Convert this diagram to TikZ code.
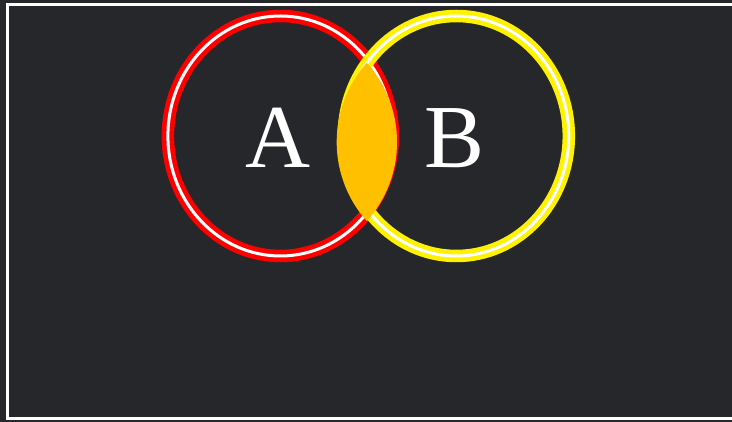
\documentclass[tikz,border=0pt]{standalone}
\usepackage{fontspec}
\setmainfont{Liberation Serif}
\definecolor{board}{RGB}{38,39,43}
\definecolor{lensfill}{RGB}{255,192,0}

\begin{document}
\begin{tikzpicture}[x=1pt, y=1pt]
  \def\rx{112.5}
  \def\ry{120}
  \coordinate (A) at (280.4,286); % left set
  \coordinate (B) at (456.3,286); % right set
  \useasboundingbox (0,0) rectangle (732,422);
  \fill[board] (0,0) rectangle (732,422);
  \draw[white, line width=2.6pt] (7.5,3.5) rectangle (740,417.5);
  % rings
  \draw[red, line width=12.5pt] (A) ellipse [x radius=\rx, y radius=\ry];
  \draw[white, line width=3pt] (A) ellipse [x radius=\rx, y radius=\ry];
  \draw[yellow, line width=12.5pt] (B) ellipse [x radius=\rx, y radius=\ry];
  \draw[white, line width=3pt] (B) ellipse [x radius=\rx, y radius=\ry];
  % overlap
  \begin{scope}
    \clip (278,280) circle (119);
    \fill[lensfill] (455.7,280) circle (119);
  \end{scope}
  % set labels
  \node[white, anchor=base, font=\fontsize{90}{90}\selectfont] (labA) at (278,254) {A};
  \node[white, anchor=base, font=\fontsize{90}{90}\selectfont] (labB) at (455,254) {B};
\end{tikzpicture}
\end{document}
